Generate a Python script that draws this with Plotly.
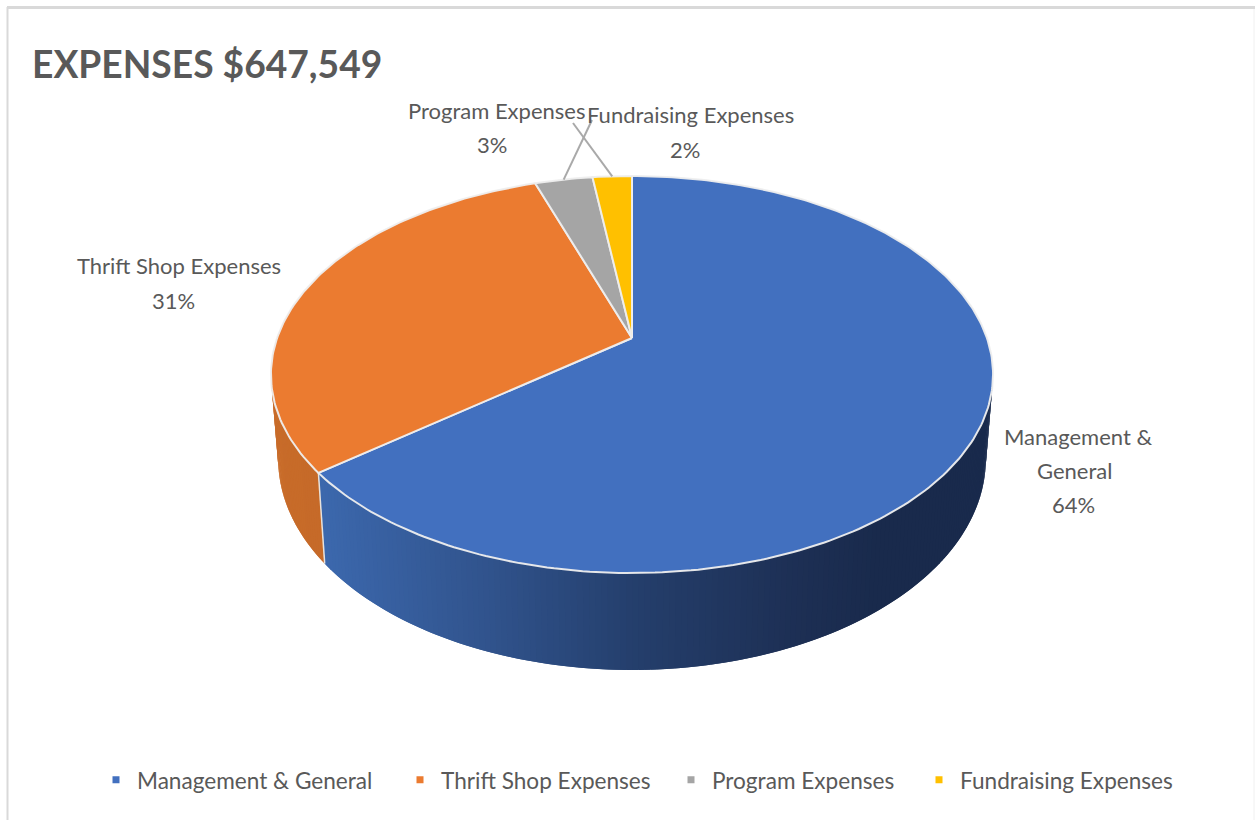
import math
import plotly.graph_objects as go

# ---- data ----
categories = ["Management & General", "Thrift Shop Expenses", "Program Expenses", "Fundraising Expenses"]
values = [64.3, 30.51, 3.09, 2.1]
title_text = "EXPENSES $647,549"

# ---- style ----
colors = ["#4270BF", "#EB7B30", "#A5A5A5", "#FFC000"]
TEXT = "#595959"
FONT = "Lato"

# projection of the tilted disc
CX, CY = 632.0, 338.0
A, B, K = 354.9, 191.8, 0.1839


def top(theta):
    u, v = math.sin(theta), math.cos(theta)
    d = 1 + K * v
    return CX + A * u / d, CY - B * v / d


def bottom(theta):
    x, y = top(theta)
    v = math.cos(theta)
    return CX + (x - CX) * 0.98, y + 82 / (1 + 0.154 * v)


def lerp_color(stops, t):
    for (t0, c0), (t1, c1) in zip(stops, stops[1:]):
        if t <= t1:
            f = max(0.0, (t - t0) / (t1 - t0))
            return "rgb({},{},{})".format(*[round(a + (b - a) * f) for a, b in zip(c0, c1)])
    return "rgb({},{},{})".format(*stops[-1][1])


blue_wall = [(320, (60, 104, 173)), (480, (49, 84, 142)), (640, (36, 62, 107)), (800, (29, 47, 84)), (880, (25, 42, 76)), (1000, (25, 42, 76))]
orange_wall = [(270, (200, 108, 42)), (330, (197, 105, 40))]

fig = go.Figure()
total = sum(values)
angles = [0.0]
for val in values:
    angles.append(angles[-1] + val / total * 2 * math.pi)
boundary = angles[1]

# side wall: overlapping strips so no gaps show
lo, hi = math.radians(100.6), math.radians(280.6)
strips = 220
edges = [lo + (hi - lo) * i / strips for i in range(strips + 1)]
edges = sorted(set(edges + [boundary]))
blue_pairs = [(a, b) for a, b in zip(edges, edges[1:]) if b <= boundary]
orange_pairs = [(a, b) for a, b in zip(edges, edges[1:]) if a >= boundary]
for pairs, stops in ((blue_pairs, blue_wall), (orange_pairs, orange_wall)):
    for idx, (a0, a1) in enumerate(pairs):
        a2 = pairs[idx + 1][1] if idx + 1 < len(pairs) else a1
        xs0, ys0 = top(a0)
        xb0, yb0 = bottom(a0)
        xs = [xs0]
        ys = [ys0]
        for a in (a1, a2):
            p = top(a)
            xs.append(p[0])
            ys.append(p[1])
        for a in (a2, a1):
            p = bottom(a)
            xs.append(p[0])
            ys.append(p[1])
        xs += [xb0, xs0]
        ys += [yb0, ys0]
        col = lerp_color(stops, (top(a0)[0] + top(a1)[0]) / 2)
        fig.add_trace(go.Scatter(x=xs, y=ys, mode="lines", fill="toself", fillcolor=col,
                                 line=dict(width=0), hoverinfo="skip", showlegend=False))

# seam between the two visible walls
sx0, sy0 = top(boundary)
sx1, sy1 = bottom(boundary)
fig.add_trace(go.Scatter(x=[sx0, sx1], y=[sy0, sy1], mode="lines",
                         line=dict(color="#e8e2dc", width=1.5),
                         hoverinfo="skip", showlegend=False))

# top face
for i, (name, col) in enumerate(zip(categories, colors)):
    a0, a1 = angles[i], angles[i + 1]
    n = max(6, int((a1 - a0) * 60))
    pts = [top(a0 + (a1 - a0) * j / n) for j in range(n + 1)]
    xs = [CX] + [p[0] for p in pts] + [CX]
    ys = [CY] + [p[1] for p in pts] + [CY]
    fig.add_trace(go.Scatter(x=xs, y=ys, mode="lines", fill="toself", fillcolor=col,
                             line=dict(color="rgba(238,238,238,0.95)", width=2),
                             name=name, hoverinfo="name", showlegend=False))

# legend entries
legend_widths = [257, 224, 201, 220]
for name, col, w in zip(categories, colors, legend_widths):
    fig.add_trace(go.Scatter(x=[None], y=[None], mode="markers", name=name, legendwidth=w,
                             marker=dict(symbol="square", size=7, color=col)))

# leader lines
mid2 = (angles[2] + angles[3]) / 2
mid3 = (angles[3] + angles[4]) / 2
mx, my = top(mid2)
fig.add_trace(go.Scatter(x=[mx, 592], y=[my, 120], mode="lines", line=dict(color="#a9a9a9", width=2),
                         hoverinfo="skip", showlegend=False))
mx, my = top(mid3)
fig.add_trace(go.Scatter(x=[mx, 573], y=[my, 123], mode="lines", line=dict(color="#a9a9a9", width=2),
                         hoverinfo="skip", showlegend=False))

pct = [f"{v:.0f}%" for v in values]
label_lines = [([1078, 1074, 1073], [436, 470, 504], ["Management &", "General", pct[0]]),
               ([179, 173], [265, 300], [categories[1], pct[1]]),
               ([496, 492], [110, 144], [categories[2], pct[2]]),
               ([690, 685], [114, 149], [categories[3], pct[3]])]
annotations = []
for xs_, ys_, texts in label_lines:
    for x, y, t in zip(xs_, ys_, texts):
        annotations.append(dict(x=x, y=y, xref="x", yref="y", text=t, showarrow=False,
                                font=dict(family=FONT, size=22, color=TEXT),
                                xanchor="center", yanchor="middle"))
annotations.append(dict(x=30, y=63, xref="x", yref="y", text="<b>" + title_text + "</b>", showarrow=False,
                        xanchor="left", yanchor="middle",
                        font=dict(family=FONT, size=37.2, color=TEXT)))

fig.update_layout(
    width=1255, height=820, autosize=False,
    margin=dict(l=0, r=0, t=0, b=0),
    paper_bgcolor="white", plot_bgcolor="white",
    xaxis=dict(range=[0, 1255], visible=False, fixedrange=True),
    yaxis=dict(range=[820, 0], visible=False, fixedrange=True),
    annotations=annotations,
    legend=dict(orientation="h", x=95 / 1255, xanchor="left", y=1 - 780 / 820, yanchor="middle",
                font=dict(family=FONT, size=22.6, color=TEXT), itemwidth=32,
                bgcolor="rgba(0,0,0,0)"),
    shapes=[dict(type="line", xref="x", yref="y", x0=7.5, x1=7.5, y0=7, y1=820, line=dict(color="#d9d9d9", width=2)),
            dict(type="line", xref="x", yref="y", x0=7, x1=1255, y0=7.5, y1=7.5, line=dict(color="#d9d9d9", width=3)),
            dict(type="line", xref="x", yref="y", x0=1254, x1=1254, y0=9, y1=820, line=dict(color="#f0f0f0", width=1))],
)
fig.write_html("out.html", config={"displayModeBar": False},
               post_script="document.body.style.margin='0';document.body.style.overflow='hidden';")
